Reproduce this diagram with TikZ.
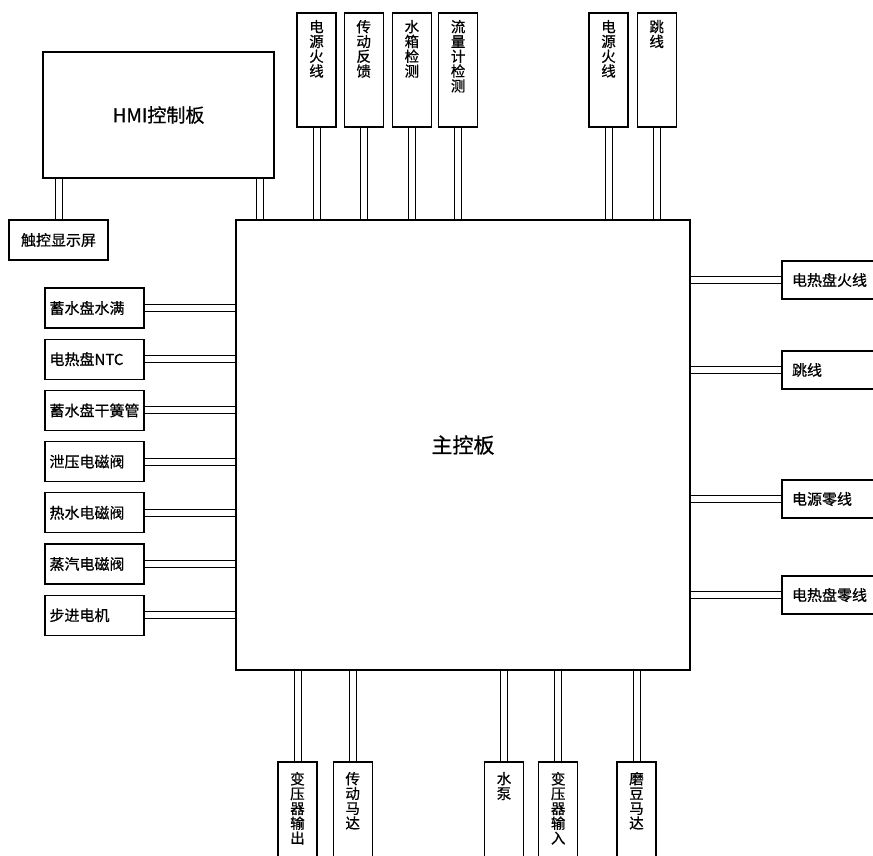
\documentclass[tikz,border=0pt]{standalone}
\usepackage{fontspec}
\setmainfont{Noto Sans CJK SC}[FakeBold=0.7]
\usetikzlibrary{calc,positioning}

\newcommand\stack[2][100pt]{\parbox[c][#1][t]{16pt}{\centering\fontsize{14.5}{14.8}\selectfont #2}}

\tikzset{
  part/.style={draw, line width=1.2pt, inner sep=0pt},
  leftbox/.style={part, minimum width=99pt, minimum height=40pt, text width=90pt, inner xsep=4.5pt, align=left, font=\fontsize{15}{15}\selectfont},
  rightbox/.style={part, minimum width=99pt, minimum height=38pt, text width=79pt, inner xsep=10pt, align=left, font=\fontsize{15}{15}\selectfont},
  upbox/.style={part, minimum width=39pt, minimum height=114pt, inner ysep=7pt},
  downbox/.style={part, minimum width=39pt, minimum height=114pt, inner ysep=10pt},
  wire/.style={double, double distance=6pt, line width=1pt}
}

\begin{document}
\begin{tikzpicture}[x=1pt,y=-1pt]
    \path[use as bounding box, fill=white] (0,0) rectangle (873,855);

    \node[part, line width=1.6pt, minimum width=454pt, minimum height=450pt, font=\fontsize{21}{21}\selectfont] (main) at (463,445) {主控板};

    \node[part, minimum width=231pt, minimum height=126pt, font=\fontsize{19}{19}\selectfont] (hmi) at (158.5,115) {HMI控制板};
    \node[part, minimum width=99pt, minimum height=40pt, font=\fontsize{15}{15}\selectfont] (touch) at (58.5,240) {触控显示屏};
    \coordinate (hmiport) at ($(hmi.south east)+(-15,0)$);

    \node[upbox] (pwrL) at (316.5,70) {\stack{电\\源\\火\\线}};
    \node[upbox, right=7pt of pwrL] (drvfb) {\stack{传\\动\\反\\馈}};
    \node[upbox, right=8pt of drvfb] (tank) {\stack{水\\箱\\检\\测}};
    \node[upbox, right=6pt of tank] (flow) {\stack{流\\量\\计\\检\\测}};
    \node[upbox] (pwrL2) at (608.5,70) {\stack{电\\源\\火\\线}};
    \node[upbox, right=8pt of pwrL2] (jmpT) {\stack{跳\\线}};

    \node[leftbox] (full) at (94.5,308) {蓄水盘水满};
    \node[leftbox, below=10pt of full] (ntc) {电热盘NTC};
    \node[leftbox, below=10pt of ntc] (reed) {蓄水盘干簧管};
    \node[leftbox, below=10pt of reed] (relief) {泄压电磁阀};
    \node[leftbox, below=10pt of relief] (hotv) {热水电磁阀};
    \node[leftbox, below=10pt of hotv] (steamv) {蒸汽电磁阀};
    \node[leftbox, below=10pt of steamv] (stepper) {步进电机};

    \node[rightbox] (heatL) at (831.5,280) {电热盘火线};
    \node[rightbox] (jmpR) at (831.5,370) {跳线};
    \node[rightbox] (pwrN) at (831.5,499) {电源零线};
    \node[rightbox] (heatN) at (831.5,595) {电热盘零线};

    \node[downbox] (xfout) at (297.5,819) {\stack[94pt]{变\\压\\器\\输\\出}};
    \node[downbox, right=15pt of xfout] (drvm) {\stack[94pt]{传\\动\\马\\达}};
    \node[downbox] (pump) at (504,819) {\stack[94pt]{水\\泵}};
    \node[downbox, right=14pt of pump] (xfin) {\stack[94pt]{变\\压\\器\\输\\入}};
    \node[downbox] (grind) at (636.5,819) {\stack[94pt]{磨\\豆\\马\\达}};

    \draw[wire] (touch.north) -- (touch.north |- hmi.south);
    \draw[wire] (hmiport) -- (hmiport |- main.north);

    \draw[wire] (pwrL.south) -- (pwrL.south |- main.north);
    \draw[wire] (drvfb.south) -- (drvfb.south |- main.north);
    \draw[wire] (tank.south) -- (tank.south |- main.north);
    \draw[wire] (flow.south) -- (flow.south |- main.north);
    \draw[wire] (pwrL2.south) -- (pwrL2.south |- main.north);
    \draw[wire] (jmpT.south) -- (jmpT.south |- main.north);

    \draw[wire] (full.east) -- (full.east -| main.west);
    \draw[wire] (ntc.east) -- (ntc.east -| main.west);
    \draw[wire] (reed.east) -- (reed.east -| main.west);
    \draw[wire] (relief.east) -- (relief.east -| main.west);
    \draw[wire] (hotv.east) -- (hotv.east -| main.west);
    \draw[wire] (steamv.east) -- (steamv.east -| main.west);
    \draw[wire] (stepper.east) -- (stepper.east -| main.west);

    \draw[wire] (heatL.west) -- (heatL.west -| main.east);
    \draw[wire] (jmpR.west) -- (jmpR.west -| main.east);
    \draw[wire] (pwrN.west) -- (pwrN.west -| main.east);
    \draw[wire] (heatN.west) -- (heatN.west -| main.east);

    \draw[wire] (xfout.north) -- (xfout.north |- main.south);
    \draw[wire] (drvm.north) -- (drvm.north |- main.south);
    \draw[wire] (pump.north) -- (pump.north |- main.south);
    \draw[wire] (xfin.north) -- (xfin.north |- main.south);
    \draw[wire] (grind.north) -- (grind.north |- main.south);
  \end{tikzpicture}
\end{document}
